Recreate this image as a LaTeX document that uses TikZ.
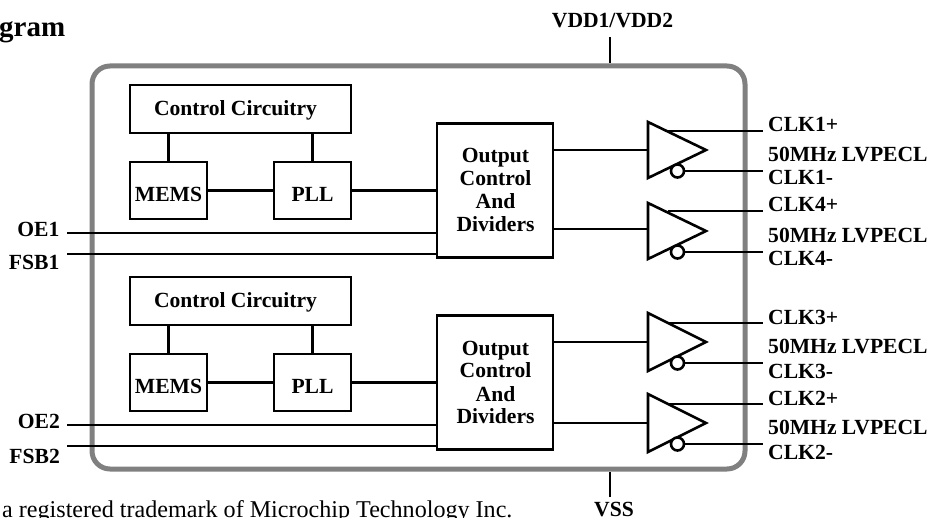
\documentclass[tikz,border=0pt]{standalone}
\usepackage{fontspec}
\setmainfont{Liberation Serif}
\tikzset{
  x=1pt,y=-1pt,
  wire/.style={line width=2.6pt,black,line cap=butt},
  chipbox/.style={draw=black!50,line width=5pt,rounded corners=18pt,minimum width=653pt,minimum height=403pt,inner sep=0pt},
  blockbox/.style={draw=black,line width=2.6pt,inner sep=0pt},
  ctrlbox/.style={blockbox,minimum width=221pt,minimum height=48pt},
  smallbox/.style={blockbox,minimum width=77pt,minimum height=57pt},
  outbox/.style={blockbox,minimum width=116pt,minimum height=134pt},
  lab/.style={inner sep=0pt,yshift=-1.5pt,font=\fontsize{21.6}{26}\selectfont\bfseries},
  bubble/.style={circle,draw=black,line width=2.6pt,minimum size=13pt,inner sep=0pt,fill=white},
  buf/.style={draw=black,line width=2.6pt,line join=miter},
}
\begin{document}
\begin{tikzpicture}
\useasboundingbox (0,0) rectangle (928,518);
\clip (0,0) rectangle (928,518);
\node[chipbox] (chip) at (418.5,267.5) {};
\node[anchor=base west,inner sep=0pt,font=\fontsize{29}{34}\selectfont\bfseries] (title) at (-1,37) {gram};
\node[anchor=base west,inner sep=0pt,font=\fontsize{24.1}{28}\selectfont] (tm) at (2,517.5) {a registered trademark of Microchip Technology Inc.};
% supplies
\node[lab,anchor=base] (vdd) at (612.5,26) {VDD1/VDD2};
\node[lab,anchor=base] (vss) at (614,515) {VSS};
\coordinate (vddp) at (610,37);
\coordinate (vssp) at (610,497);
\draw[wire] (vddp) -- (vddp |- chip.north);
\draw[wire] (vssp) -- (vssp |- chip.south);
% upper section
\node[ctrlbox] (c1) at (240.5,109) {}; \node[lab,anchor=base] (c1t) at (235.5,114) {Control Circuitry};
\node[smallbox] (m1) at (168.5,190.5) {}; \node[lab,anchor=base] (m1t) at (168.5,200) {MEMS};
\node[smallbox] (p1) at (312.5,190.5) {}; \node[lab,anchor=base] (p1t) at (312.5,200) {PLL};
\node[outbox] (o1) at (495,190.3) {};
\node[lab,anchor=base] (o1a) at (495.5,161.5) {Output};
\node[lab,anchor=base] (o1b) at (495.5,184) {Control};
\node[lab,anchor=base] (o1c) at (495.5,207.5) {And};
\node[lab,anchor=base] (o1d) at (495.5,230) {Dividers};
\draw[wire] (m1.north) -- (m1.north |- c1.south);
\draw[wire] (p1.north) -- (p1.north |- c1.south);
\draw[wire] (m1.east) -- (p1.west);
\draw[wire] (p1.east) -- (p1.east -| o1.west);
% lower section
\node[ctrlbox] (c2) at (240.5,301) {}; \node[lab,anchor=base] (c2t) at (235.5,306) {Control Circuitry};
\node[smallbox] (m2) at (168.5,382.5) {}; \node[lab,anchor=base] (m2t) at (168.5,392) {MEMS};
\node[smallbox] (p2) at (312.5,382.5) {}; \node[lab,anchor=base] (p2t) at (312.5,392) {PLL};
\node[outbox] (o2) at (495,382.5) {};
\node[lab,anchor=base] (o2a) at (495.5,353.5) {Output};
\node[lab,anchor=base] (o2b) at (495.5,376) {Control};
\node[lab,anchor=base] (o2c) at (495.5,399.5) {And};
\node[lab,anchor=base] (o2d) at (495.5,422) {Dividers};
\draw[wire] (m2.north) -- (m2.north |- c2.south);
\draw[wire] (p2.north) -- (p2.north |- c2.south);
\draw[wire] (m2.east) -- (p2.west);
\draw[wire] (p2.east) -- (p2.east -| o2.west);
% inputs
\coordinate (oe1p) at (67,233); \coordinate (fs1p) at (67,254);
\coordinate (oe2p) at (67,425); \coordinate (fs2p) at (67,446);
\node[lab,anchor=base east] (oe1) at (59.5,235) {OE1};
\node[lab,anchor=base east] (fs1) at (59.5,268) {FSB1};
\node[lab,anchor=base east] (oe2) at (60,427) {OE2};
\node[lab,anchor=base east] (fs2) at (60,462) {FSB2};
\draw[wire] (oe1p) -- (oe1p -| o1.west);
\draw[wire] (fs1p) -- (fs1p -| o1.west);
\draw[wire] (oe2p) -- (oe2p -| o2.west);
\draw[wire] (fs2p) -- (fs2p -| o2.west);
% buffers
\foreach \n/\yt/\yb/\ym/\yp/\yq/\src/\lp/\lm/\bl/\bm/\bp in {
  a/122/178/150/131/171/o1/CLK1+/CLK1-/160/183.5/130.5,
  b/203/259/229/211/252/o1/CLK4+/CLK4-/241/264.5/210.5,
  c/313/371/342/323/363/o2/CLK3+/CLK3-/352/376.5/322.5,
  d/394/452/423/404/444/o2/CLK2+/CLK2-/433/457.5/403.5}{
  \coordinate (bt\n) at (648,\yt);
  \coordinate (bb\n) at (648,\yb);
  \coordinate (bi\n) at (648,\ym);
  \coordinate (bo\n) at (706,{(\yt+\yb)/2});
  \draw[wire] (\src.east |- bi\n) -- (bi\n);
  \draw[buf] (bt\n) -- (bo\n) -- (bb\n) -- cycle;
  \coordinate (pe\n) at (763,\yp);
  \coordinate (ps\n) at (668,\yp);
  \coordinate (me\n) at (763,\yq);
  \draw[wire] (ps\n) -- (pe\n);
  \node[bubble] (bub\n) at (677.5,\yq) {};
  \draw[wire] (bub\n.east) -- (me\n);
  \node[lab,anchor=base west] (lp\n) at (768,\bp) {\lp};
  \node[lab,anchor=base west] (lf\n) at (768,\bl) {50MHz LVPECL};
  \node[lab,anchor=base west] (lm\n) at (768,\bm) {\lm};
}
\end{tikzpicture}
\end{document}
